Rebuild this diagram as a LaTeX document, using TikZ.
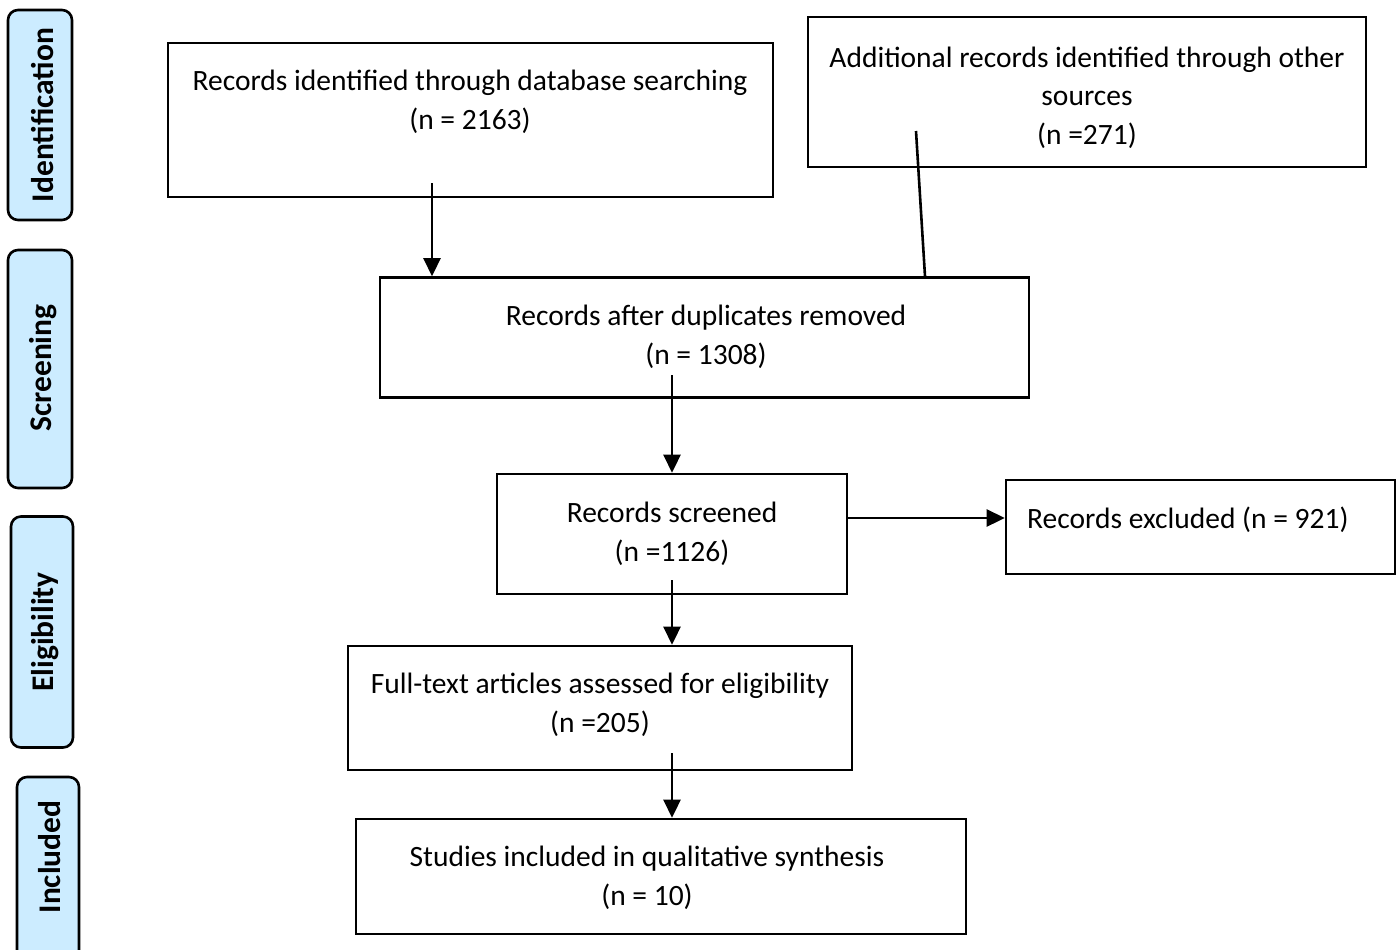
\documentclass[tikz,border=0pt]{standalone}
\usepackage{fontspec}
\setmainfont{Carlito}
\usetikzlibrary{arrows.meta}
\definecolor{lblue}{RGB}{204,236,255}
\begin{document}
\begin{tikzpicture}[x=1pt,y=-1pt,
  box/.style={draw=black, line width=2.6pt, inner sep=0pt},
  txt/.style={font=\fontsize{29.5}{38.5}\selectfont, align=center, inner sep=0pt, anchor=base},
  side/.style={draw=black, line width=2.6pt, fill=lblue, rounded corners=10pt, inner sep=0pt},
  sidetxt/.style={font=\fontsize{31.5}{34}\selectfont\bfseries, rotate=90, inner sep=0pt},
  arr/.style={line width=2.6pt, -{Triangle[length=18pt,width=17pt]}},
  ln/.style={line width=2.6pt}]
\useasboundingbox (0,0) rectangle (1400,950);
\clip (0,0) rectangle (1400,950);

% side labels
\node[side, minimum width=64pt, minimum height=210pt] (sid) at (40,115) {};
\node[sidetxt] (sidt) at (43,115) {Identification};
\node[side, minimum width=64pt, minimum height=238pt] (sscr) at (40,369) {};
\node[sidetxt] (sscrt) at (43,368) {Screening};
\node[side, minimum width=62pt, minimum height=231pt] (sel) at (42,632) {};
\node[sidetxt] (selt) at (45,632) {Eligibility};
\node[side, minimum width=62pt, minimum height=190pt] (sinc) at (48,872) {};
\node[sidetxt] (sinct) at (50,857) {Included};

% boxes
\node[box, minimum width=605pt, minimum height=154pt] (db) at (470.5,120) {};
\node[txt] (dbt) at (470,129) {Records identified through database searching\\(n = 2163)};
\node[box, minimum width=558pt, minimum height=150pt] (add) at (1087,92) {};
\node[txt] (addt) at (1087,144) {Additional records identified through other\\sources\\(n =271)};
\node[box, minimum width=649pt, minimum height=120pt] (dup) at (704.5,337.5) {};
\node[txt] (dupt) at (706,364) {Records after duplicates removed\\(n = 1308)};
\node[box, minimum width=350pt, minimum height=120pt] (scr) at (672,534) {};
\node[txt] (scrt) at (672,561) {Records screened\\(n =1126)};
\node[box, minimum width=389pt, minimum height=94pt] (exc) at (1200.5,527) {};
\node[txt, anchor=base west] (exct) at (1027,528) {Records excluded (n = 921)};
\node[box, minimum width=504pt, minimum height=124pt] (elig) at (600,708) {};
\node[txt] (eligt) at (600,732) {Full-text articles assessed for eligibility\\(n =205)};
\node[box, minimum width=610pt, minimum height=115pt] (stud) at (661,876.5) {};
\node[txt] (studt) at (647,905) {Studies included in qualitative synthesis\\(n = 10)};

% connectors
\coordinate (c1) at (432,183);
\draw[arr] (c1) -- (c1 |- dup.north);
\coordinate (c2) at (916,131);
\coordinate (c2e) at (925,0);
\draw[ln] (c2) -- (c2e |- dup.north);
\coordinate (c3) at (672,375);
\draw[arr] (c3) -- (c3 |- scr.north);
\coordinate (c4) at (0,518);
\draw[arr] (scr.east |- c4) -- (exc.west |- c4);
\coordinate (c5) at (672,580);
\draw[arr] (c5) -- (c5 |- elig.north);
\coordinate (c6) at (672,753);
\draw[arr] (c6) -- (c6 |- stud.north);
\end{tikzpicture}
\end{document}
